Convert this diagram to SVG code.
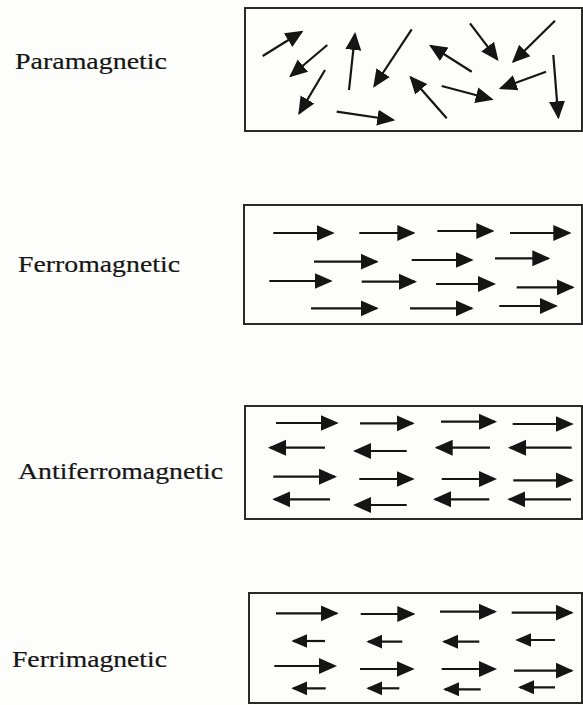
<svg xmlns="http://www.w3.org/2000/svg" width="583" height="705" viewBox="0 0 583 705">
<style>
.bg{fill:#fdfdfb}
.box{fill:none;stroke:#2a2a2a;stroke-width:2}
.a{stroke:#151515;stroke-width:2.2;fill:none;marker-end:url(#h)}
.s{stroke:#151515;stroke-width:2.2;fill:none;marker-end:url(#hs)}
.lbl{font-family:"Liberation Serif","Times New Roman",serif;font-size:24px;fill:#151515;stroke:#151515;stroke-width:0.2}
</style>
<defs>
<marker id="h" markerUnits="userSpaceOnUse" markerWidth="18" markerHeight="18" viewBox="0 0 18 18" refX="16" refY="9" orient="auto">
<path d="M0,1 L18,9 L0,17 Z" fill="#151515"/>
</marker>
<marker id="hs" markerUnits="userSpaceOnUse" markerWidth="16" markerHeight="16" viewBox="0 0 16 16" refX="14" refY="8" orient="auto">
<path d="M0,1 L16,8 L0,15 Z" fill="#151515"/>
</marker>
</defs>
<rect class="bg" x="0" y="0" width="583" height="705"/>

<g id="paramagnetic">
<text class="lbl" x="15" y="69" textLength="152" lengthAdjust="spacingAndGlyphs">Paramagnetic</text>
<rect class="box" x="245" y="8" width="337" height="123"/>
<path class="a" d="M262.7,56 L301.7,31.7"/>
<path class="a" d="M327.3,45 L290.7,76"/>
<path class="a" d="M325,70 L299.3,113.3"/>
<path class="a" d="M349,90 L355,34"/>
<path class="a" d="M411.7,29.3 L374.3,86"/>
<path class="a" d="M336.7,111.7 L393.3,120"/>
<path class="a" d="M471.7,71.7 L430.7,45.7"/>
<path class="a" d="M446.7,118.3 L410.7,77.3"/>
<path class="a" d="M470,23.3 L497.3,59.3"/>
<path class="a" d="M555,20.7 L513.3,61.7"/>
<path class="a" d="M441.7,86 L491.7,99.3"/>
<path class="a" d="M546,71.7 L500.7,88.3"/>
<path class="a" d="M553.3,55 L558.3,117.3"/>
</g>

<g id="ferromagnetic">
<text class="lbl" x="18" y="272" textLength="162" lengthAdjust="spacingAndGlyphs">Ferromagnetic</text>
<rect class="box" x="244" y="205" width="338" height="119"/>
<path class="a" d="M273.3,233 L332.7,233"/>
<path class="a" d="M359.3,233 L413.3,233"/>
<path class="a" d="M437.3,231 L492.3,231"/>
<path class="a" d="M510,233 L569.3,233"/>
<path class="a" d="M314,261.7 L376.7,261.7"/>
<path class="a" d="M411.7,260 L471.7,260"/>
<path class="a" d="M495,258.3 L548.3,258.3"/>
<path class="a" d="M269.3,281 L330.7,281"/>
<path class="a" d="M361.7,281.7 L415,281.7"/>
<path class="a" d="M436,284 L494,284"/>
<path class="a" d="M516.7,287.3 L572.7,287.3"/>
<path class="a" d="M311,308.3 L376.7,308.3"/>
<path class="a" d="M410,308.3 L471.7,308.3"/>
<path class="a" d="M499.3,306 L556,306"/>
</g>

<g id="antiferromagnetic">
<text class="lbl" x="18" y="479" textLength="205" lengthAdjust="spacingAndGlyphs">Antiferromagnetic</text>
<rect class="box" x="245" y="406" width="337" height="113"/>
<path class="a" d="M276,423 L336.7,423"/>
<path class="a" d="M360,423.3 L412.7,423.3"/>
<path class="a" d="M441,421.7 L495,421.7"/>
<path class="a" d="M512.7,424 L571.7,424"/>
<path class="a" d="M325,447.7 L270,447.7"/>
<path class="a" d="M406.7,451 L355,451"/>
<path class="a" d="M490,447.7 L436.7,447.7"/>
<path class="a" d="M571.7,447.7 L510,447.7"/>
<path class="a" d="M273.3,476.7 L335,476.7"/>
<path class="a" d="M359.3,479 L412.7,479"/>
<path class="a" d="M441.7,479 L495,479"/>
<path class="a" d="M513.3,480.3 L571.7,480.3"/>
<path class="a" d="M330,499.3 L274.3,499.3"/>
<path class="a" d="M406.7,505 L355,505"/>
<path class="a" d="M489.3,499.3 L435,499.3"/>
<path class="a" d="M571,499.3 L509.3,499.3"/>
</g>

<g id="ferrimagnetic">
<text class="lbl" x="12" y="667" textLength="155" lengthAdjust="spacingAndGlyphs">Ferrimagnetic</text>
<rect class="box" x="249" y="593" width="333" height="110"/>
<path class="a" d="M276,613.3 L336.7,613.3"/>
<path class="a" d="M360.7,614 L413.3,614"/>
<path class="a" d="M440,611.7 L495,611.7"/>
<path class="a" d="M511.7,612.7 L571.7,612.7"/>
<path class="s" d="M325,641 L293.3,641"/>
<path class="s" d="M402.3,641.7 L368.3,641.7"/>
<path class="s" d="M479.3,641.7 L444,641.7"/>
<path class="s" d="M555,640 L517.3,640"/>
<path class="a" d="M274.3,666 L335,666"/>
<path class="a" d="M360,669 L412.7,669"/>
<path class="a" d="M441.7,669 L495,669"/>
<path class="a" d="M514,670.7 L571.7,670.7"/>
<path class="s" d="M325.7,688.3 L293.3,688.3"/>
<path class="s" d="M399.3,688.3 L368.3,688.3"/>
<path class="s" d="M480.7,689.3 L445,689.3"/>
<path class="s" d="M555,687.3 L520,687.3"/>
</g>
</svg>
